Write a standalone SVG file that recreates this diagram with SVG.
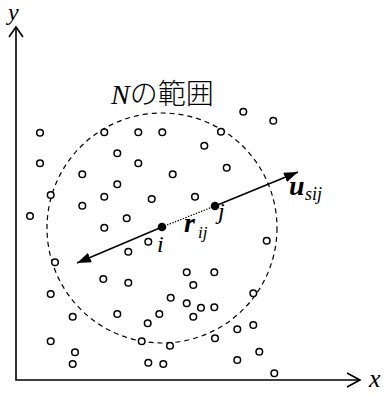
<svg xmlns="http://www.w3.org/2000/svg" width="383" height="396" viewBox="0 0 383 396">
<style>
.pt{fill:#fff;stroke:#000;stroke-width:1.5}
.ax{fill:none;stroke:#000;stroke-width:1.6}
.t{font-family:"Liberation Serif","Times New Roman",serif;font-style:italic;fill:#000}
.b{font-weight:bold}
.cjk{font-family:"Noto Sans CJK JP",sans-serif;font-style:normal;font-weight:300}
</style>
<defs>
<marker id="ah" viewBox="0 0 14 10" refX="14" refY="5" markerWidth="14" markerHeight="10" markerUnits="userSpaceOnUse" orient="auto">
<path d="M0,0 L14,5 L0,10 Z" fill="#000"/>
</marker>
</defs>
<g id="axes">
<path class="ax" d="M16,27 V380 H360"/>
<path class="ax" d="M9,37 L16,27 L23,37"/>
<path class="ax" d="M347,373 L360,380 L347,387"/>
<text class="t" x="8" y="20" font-size="24">y</text>
<text class="t" x="369" y="387" font-size="26">x</text>
</g>
<g id="range">
<circle cx="162" cy="228" r="115" fill="none" stroke="#000" stroke-width="1.2" stroke-dasharray="5,4"/>
<text class="t" x="111" y="104" font-size="28">N<tspan class="cjk">の範囲</tspan></text>
</g>
<g id="particles">
<circle class="pt" cx="40" cy="132.7" r="3.3"/>
<circle class="pt" cx="104.3" cy="132.3" r="3.3"/>
<circle class="pt" cx="138.3" cy="132.3" r="3.3"/>
<circle class="pt" cx="162.3" cy="132.3" r="3.3"/>
<circle class="pt" cx="117.3" cy="153.3" r="3.3"/>
<circle class="pt" cx="40" cy="163.3" r="3.3"/>
<circle class="pt" cx="138.3" cy="163.3" r="3.3"/>
<circle class="pt" cx="82.3" cy="174.3" r="3.3"/>
<circle class="pt" cx="172.7" cy="174.3" r="3.3"/>
<circle class="pt" cx="117.3" cy="184.3" r="3.3"/>
<circle class="pt" cx="50.7" cy="195" r="3.3"/>
<circle class="pt" cx="104.3" cy="196.7" r="3.3"/>
<circle class="pt" cx="82.3" cy="205.7" r="3.3"/>
<circle class="pt" cx="151.7" cy="199" r="3.3"/>
<circle class="pt" cx="30" cy="216" r="3.3"/>
<circle class="pt" cx="126.7" cy="218.3" r="3.3" stroke-width="2"/>
<circle class="pt" cx="104.3" cy="227.7" r="3.3"/>
<circle class="pt" cx="148.3" cy="241.7" r="3.3"/>
<circle class="pt" cx="128.3" cy="251.7" r="3.3"/>
<circle class="pt" cx="243.3" cy="111.7" r="3.3"/>
<circle class="pt" cx="273.3" cy="120.7" r="3.3"/>
<circle class="pt" cx="221" cy="131.7" r="3.3"/>
<circle class="pt" cx="204.3" cy="145.7" r="3.3"/>
<circle class="pt" cx="226.7" cy="167.7" r="3.3"/>
<circle class="pt" cx="195" cy="196.7" r="3.3"/>
<circle class="pt" cx="266.7" cy="240.7" r="3.3"/>
<circle class="pt" cx="55" cy="262.3" r="3.3"/>
<circle class="pt" cx="103.3" cy="279" r="3.3"/>
<circle class="pt" cx="128.3" cy="282.7" r="3.3"/>
<circle class="pt" cx="186.7" cy="272.3" r="3.3"/>
<circle class="pt" cx="50.7" cy="294" r="3.3"/>
<circle class="pt" cx="170.7" cy="297.7" r="3.3"/>
<circle class="pt" cx="186.7" cy="303.3" r="3.3"/>
<circle class="pt" cx="72.7" cy="316.7" r="3.3"/>
<circle class="pt" cx="117.3" cy="314" r="3.3"/>
<circle class="pt" cx="159.3" cy="314" r="3.3"/>
<circle class="pt" cx="147.7" cy="323.3" r="3.3"/>
<circle class="pt" cx="50.7" cy="341.3" r="3.3"/>
<circle class="pt" cx="141.7" cy="341.3" r="3.3"/>
<circle class="pt" cx="170" cy="345.7" r="3.3"/>
<circle class="pt" cx="75" cy="352.3" r="3.3"/>
<circle class="pt" cx="72.7" cy="364" r="3.3"/>
<circle class="pt" cx="148.3" cy="362.7" r="3.3"/>
<circle class="pt" cx="163.3" cy="364" r="3.3"/>
<circle class="pt" cx="214.3" cy="272.3" r="3.3"/>
<circle class="pt" cx="193.3" cy="285" r="3.3"/>
<circle class="pt" cx="201" cy="307.7" r="3.3"/>
<circle class="pt" cx="214.3" cy="307.3" r="3.3"/>
<circle class="pt" cx="193.3" cy="316.7" r="3.3"/>
<circle class="pt" cx="253.3" cy="293.3" r="3.3"/>
<circle class="pt" cx="237.3" cy="329.3" r="3.3"/>
<circle class="pt" cx="253.3" cy="325" r="3.3"/>
<circle class="pt" cx="215" cy="338.3" r="3.3"/>
<circle class="pt" cx="259.3" cy="351.7" r="3.3"/>
<circle class="pt" cx="237.3" cy="360" r="3.3"/>
<circle class="pt" cx="274.3" cy="373.3" r="3.3"/>
</g>
<g id="connectors">
<line x1="162" y1="227" x2="77" y2="263" stroke="#000" stroke-width="1.6" marker-end="url(#ah)"/>
<line x1="162" y1="227" x2="215" y2="206" stroke="#000" stroke-width="1.3" stroke-dasharray="1.3,1.5"/>
<line x1="215" y1="206" x2="298" y2="172" stroke="#000" stroke-width="1.6" marker-end="url(#ah)"/>
</g>
<g id="node-i">
<circle cx="162" cy="227" r="4.3" fill="#000"/>
<text class="t" x="157" y="252" font-size="24">i</text>
</g>
<g id="node-j">
<circle cx="215" cy="206" r="4.3" fill="#000"/>
<text class="t" x="218" y="219" font-size="24">j</text>
</g>
<g id="labels">
<text class="t b" x="184" y="232" font-size="28">r</text>
<text class="t" x="198" y="238" font-size="17">ij</text>
<text class="t b" x="289" y="195" font-size="28">u</text>
<text class="t" x="305" y="200" font-size="18">sij</text>
</g>
</svg>
